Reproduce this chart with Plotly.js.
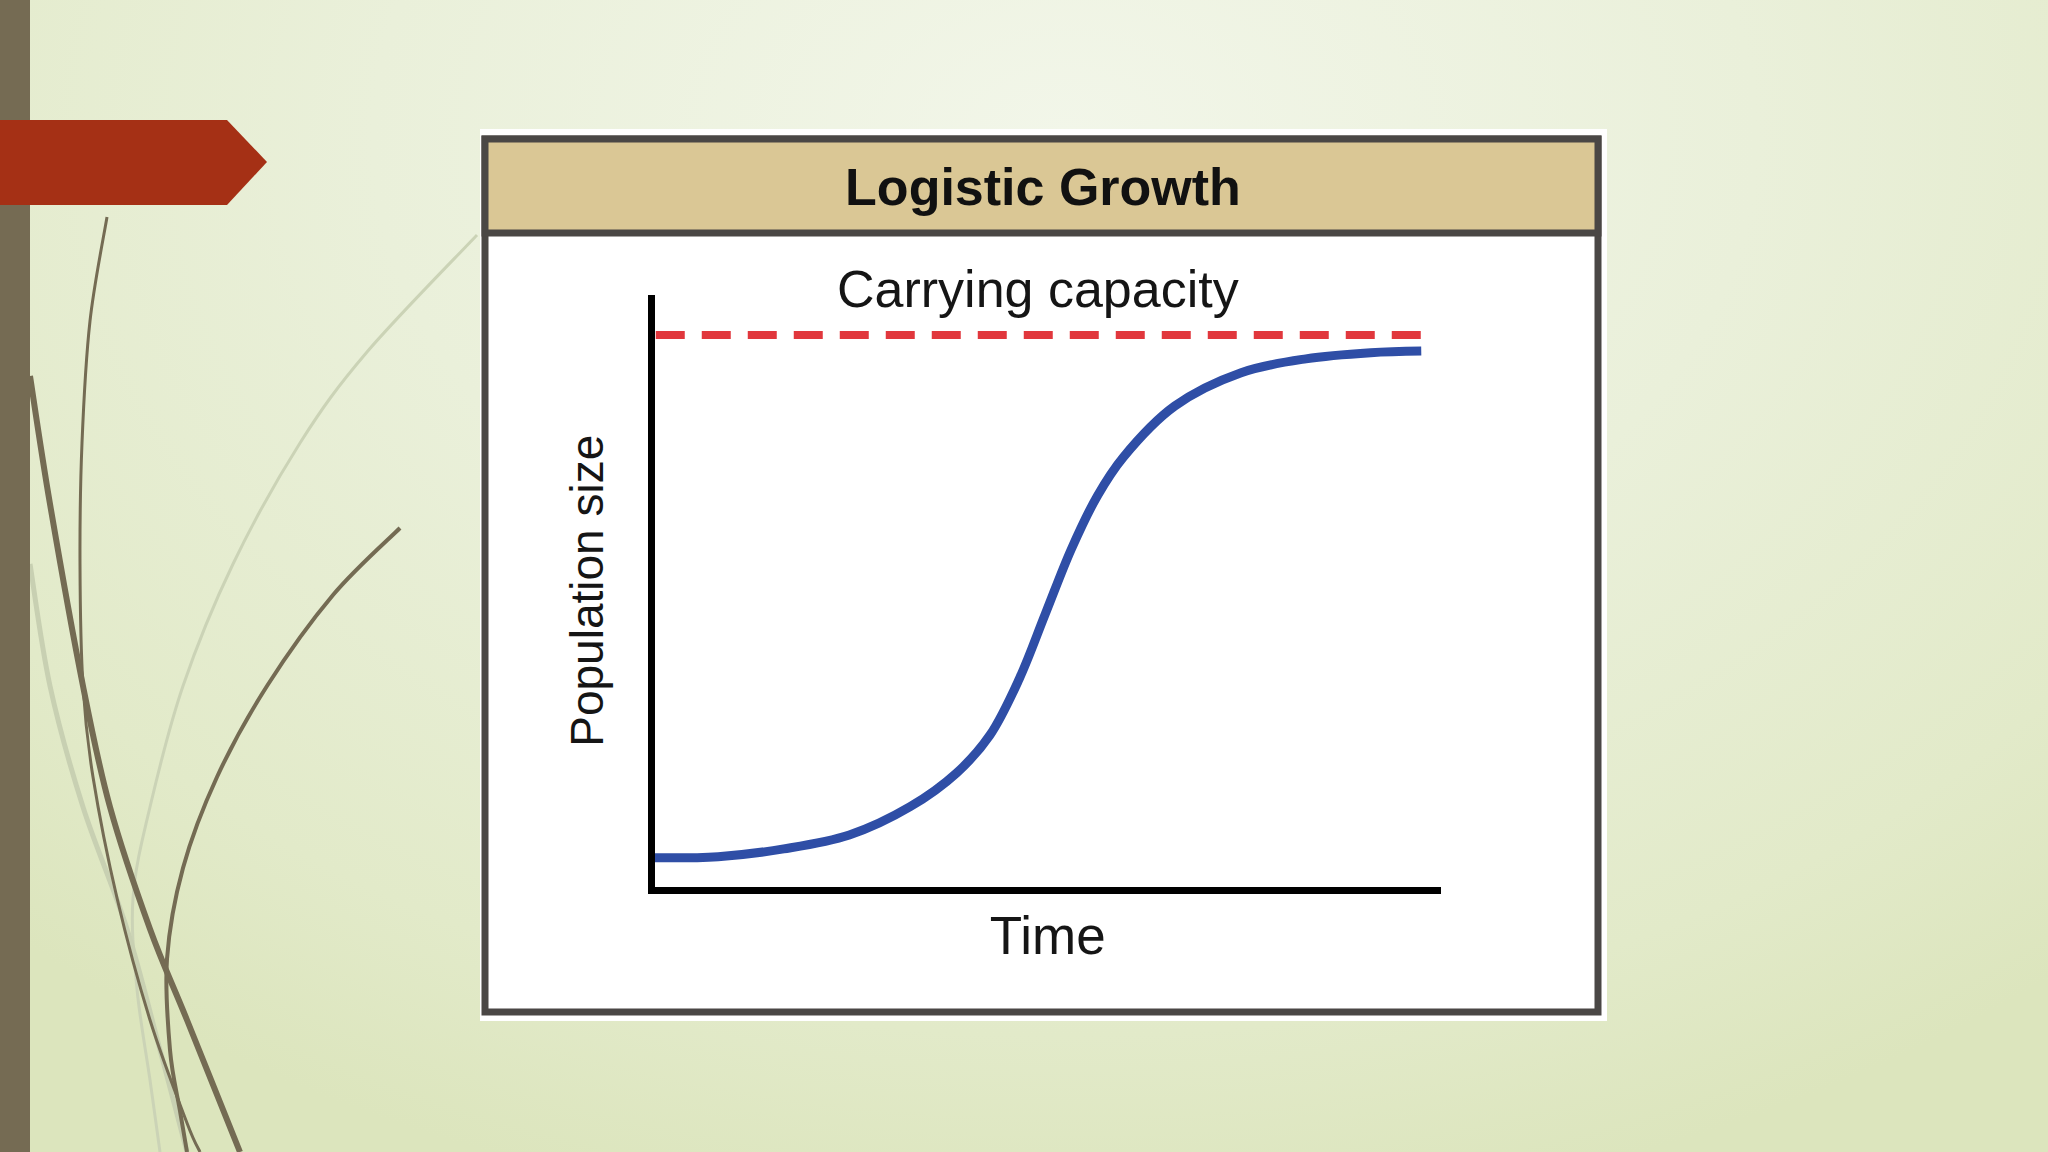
<!DOCTYPE html>
<html>
<head>
<meta charset="utf-8">
<script src="https://cdn.plot.ly/plotly-3.0.1.min.js"></script>
<style>
  html, body { margin: 0; padding: 0; width: 2048px; height: 1152px; overflow: hidden; }
  body { background: radial-gradient(ellipse 75% 95% at 52% 12%, #f2f6e9 0%, #eaf0da 45%, #e2eac9 82%, #dce5bd 100%); }
  #chart { width: 2048px; height: 1152px; }
</style>
</head>
<body>
<div id="chart"></div>
<script>
// ---- data ----
const chartTitle = "Logistic Growth";
const xTitle = "Time";
const yTitle = "Population size";
const capacityLabel = "Carrying capacity";

const growthTime = [0.25, 8.5, 16.8, 25.1, 32.8, 38.7, 42.9, 46.6, 49.9, 53.2, 56.5, 59.8, 66.3, 74.7, 82.9, 91.1, 97.5];
const growthPopulation = [5.8, 6.0, 7.4, 9.9, 15.0, 21.1, 27.9, 38.0, 49.7, 61.4, 71.0, 78.0, 87.2, 93.2, 95.7, 96.8, 97.1];

const capacityTime = [0.6, 97.7];
const capacityValue = [100, 100];

// ---- page decoration (pixel geometry of the slide, not data) ----
const W = 2048, H = 1152;
function px(x) { return x / W; }
function py(y) { return 1 - y / H; }
function rectPx(x0, y0, x1, y1) { return { x0: px(x0), x1: px(x1), y0: py(y1), y1: py(y0) }; }
function polyPath(pts) {
  return 'M ' + pts.map(p => px(p[0]) + ',' + py(p[1])).join(' L ') + ' Z';
}
function smoothPath(pts) {
  let d = 'M ' + px(pts[0][0]) + ',' + py(pts[0][1]);
  for (let i = 0; i < pts.length - 1; i++) {
    const p0 = pts[Math.max(0, i - 1)], p1 = pts[i], p2 = pts[i + 1], p3 = pts[Math.min(pts.length - 1, i + 2)];
    const c1 = [p1[0] + (p2[0] - p0[0]) / 6, p1[1] + (p2[1] - p0[1]) / 6];
    const c2 = [p2[0] - (p3[0] - p1[0]) / 6, p2[1] - (p3[1] - p1[1]) / 6];
    d += ' C ' + px(c1[0]) + ',' + py(c1[1]) + ' ' + px(c2[0]) + ',' + py(c2[1]) + ' ' + px(p2[0]) + ',' + py(p2[1]);
  }
  return d;
}
const decoCurves = [
  { pts: [[477,235],[367,352],[300,443],[233,564],[183,686],[150,807],[133,898],[137,989],[150,1080],[160,1152]], color: '#cbd3b6', width: 3 },
  { pts: [[30,564],[50,686],[83,807],[127,929],[160,1050],[187,1152]], color: '#c8d0b2', width: 5 },
  { pts: [[107,217],[90,321],[82,443],[80,564],[83,686],[93,777],[117,898],[150,1020],[187,1123],[200,1152]], color: '#746b53', width: 3 },
  { pts: [[30,376],[50,504],[83,686],[110,807],[150,929],[187,1020],[240,1152]], color: '#746b53', width: 6 },
  { pts: [[400,528],[333,595],[267,686],[217,777],[183,868],[167,959],[170,1050],[180,1111],[187,1152]], color: '#746b53', width: 4 }
];

const shapes = [];
decoCurves.forEach(c => shapes.push({ type: 'path', xref: 'paper', yref: 'paper', layer: 'below', path: smoothPath(c.pts), line: { color: c.color, width: c.width } }));
shapes.push(Object.assign({ type: 'rect', xref: 'paper', yref: 'paper', layer: 'below', fillcolor: '#756b53', line: { width: 0 } }, rectPx(0, 0, 30, 1152)));
shapes.push({ type: 'path', xref: 'paper', yref: 'paper', layer: 'below', path: polyPath([[0,120],[227,120],[267,162],[227,205],[0,205]]), fillcolor: '#a53015', line: { width: 0 } });
shapes.push(Object.assign({ type: 'rect', xref: 'paper', yref: 'paper', layer: 'below', fillcolor: '#ffffff', line: { width: 0 } }, rectPx(480, 129, 1607, 1021)));
shapes.push(Object.assign({ type: 'rect', xref: 'paper', yref: 'paper', layer: 'below', fillcolor: '#ffffff', line: { color: '#4a4745', width: 7 } }, rectPx(485, 139, 1598, 1012)));
shapes.push(Object.assign({ type: 'rect', xref: 'paper', yref: 'paper', layer: 'below', fillcolor: '#dac795', line: { color: '#4a4745', width: 7 } }, rectPx(485, 139, 1598, 233)));

const font = 'Liberation Sans, Arial, Helvetica, sans-serif';

const traces = [
  {
    type: 'scatter', mode: 'lines', name: capacityLabel,
    x: capacityTime, y: capacityValue,
    line: { color: '#e1373d', width: 8, dash: '29px,17px' },
    hoverinfo: 'skip'
  },
  {
    type: 'scatter', mode: 'lines', name: 'Population',
    x: growthTime, y: growthPopulation,
    line: { color: '#2f4ea6', width: 9, shape: 'spline', smoothing: 1 },
    hoverinfo: 'skip'
  }
];

const layout = {
  width: W, height: H,
  margin: { l: 0, r: 0, t: 0, b: 0 },
  paper_bgcolor: 'rgba(0,0,0,0)',
  plot_bgcolor: 'rgba(0,0,0,0)',
  showlegend: false,
  font: { family: font, color: '#151515' },
  title: {
    text: '<b>' + chartTitle + '</b>',
    xref: 'paper', yref: 'paper',
    x: 1043 / W, y: 1 - 187 / H,
    xanchor: 'center', yanchor: 'middle',
    font: { family: font, size: 52, color: '#111111' }
  },
  xaxis: {
    domain: [654.5 / W, 1441 / W],
    range: [0.44, 100],
    showgrid: false, zeroline: false, showticklabels: false, ticks: '',
    showline: true, linecolor: '#000000', linewidth: 7,
    fixedrange: true,
    title: { text: xTitle, font: { family: font, size: 53, color: '#151515' }, standoff: 27 }
  },
  yaxis: {
    domain: [1 - 886.5 / H, 1 - 295 / H],
    range: [0.63, 107.2],
    showgrid: false, zeroline: false, showticklabels: false, ticks: '',
    showline: true, linecolor: '#000000', linewidth: 7,
    fixedrange: true,
    title: { text: yTitle, font: { family: font, size: 46, color: '#151515' }, standoff: 32 }
  },
  annotations: [
    {
      text: capacityLabel, xref: 'paper', yref: 'paper',
      x: 1038 / W, y: 1 - 289 / H, xanchor: 'center', yanchor: 'middle',
      showarrow: false, font: { family: font, size: 52, color: '#151515' }
    }
  ],
  shapes: shapes
};

Plotly.newPlot('chart', traces, layout, { displayModeBar: false, staticPlot: true });
</script>
</body>
</html>
